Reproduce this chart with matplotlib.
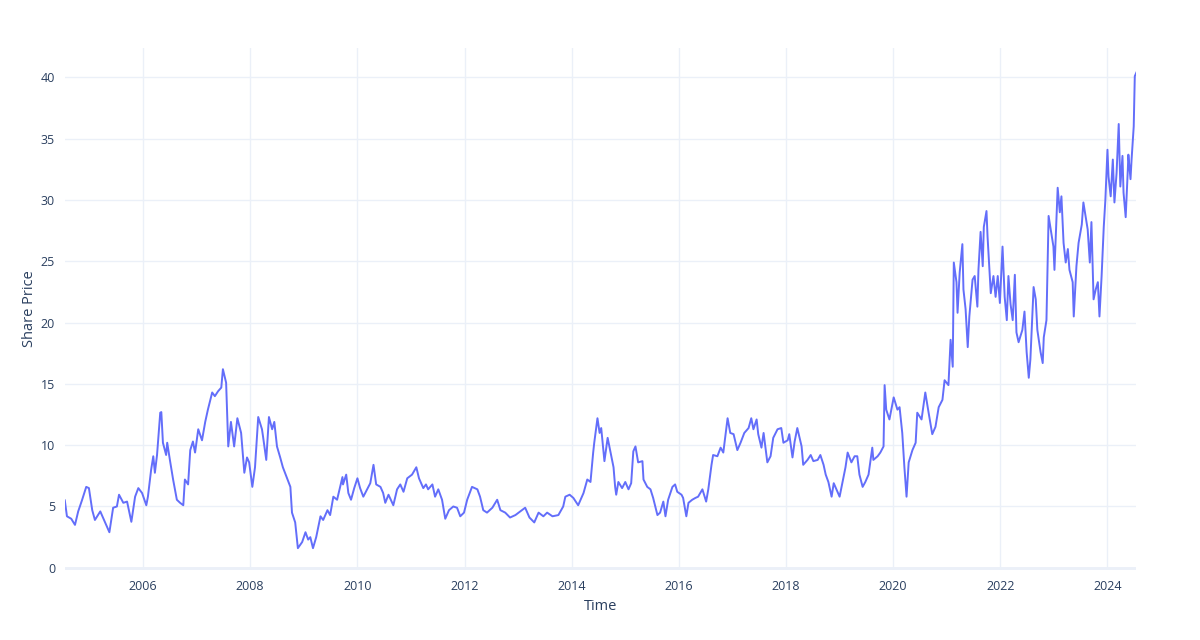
import numpy as np
import pandas as pd
import matplotlib
matplotlib.use("Agg")
import matplotlib.pyplot as plt
import matplotlib.dates as mdates

# decimal year -> share price
years = [
    2004.54, 2004.58, 2004.66, 2004.73, 2004.79, 2004.86, 2004.94, 2004.99, 2005.05, 2005.10,
    2005.20, 2005.25, 2005.37, 2005.44, 2005.51, 2005.55, 2005.63, 2005.70, 2005.78, 2005.85,
    2005.91, 2005.98, 2006.06, 2006.09, 2006.15, 2006.19, 2006.22, 2006.26, 2006.32, 2006.34,
    2006.37, 2006.43, 2006.45, 2006.50, 2006.56, 2006.63, 2006.69, 2006.75, 2006.78, 2006.84,
    2006.88, 2006.93, 2006.97, 2007.03, 2007.10, 2007.16, 2007.21, 2007.29, 2007.34, 2007.40,
    2007.46, 2007.49, 2007.55, 2007.59, 2007.64, 2007.70, 2007.76, 2007.83, 2007.89, 2007.94,
    2007.98, 2008.04, 2008.09, 2008.15, 2008.22, 2008.24, 2008.30, 2008.35, 2008.41, 2008.45,
    2008.50, 2008.56, 2008.61, 2008.69, 2008.75, 2008.78, 2008.84, 2008.89, 2008.97, 2009.03,
    2009.08, 2009.12, 2009.17, 2009.23, 2009.31, 2009.36, 2009.44, 2009.49, 2009.55, 2009.62,
    2009.72, 2009.73, 2009.79, 2009.83, 2009.88, 2009.94, 2010.00, 2010.05, 2010.11, 2010.18,
    2010.24, 2010.30, 2010.35, 2010.43, 2010.48, 2010.52, 2010.58, 2010.67, 2010.74, 2010.80,
    2010.86, 2010.93, 2011.02, 2011.10, 2011.15, 2011.23, 2011.28, 2011.32, 2011.40, 2011.45,
    2011.51, 2011.58, 2011.64, 2011.71, 2011.79, 2011.86, 2011.92, 2011.99, 2012.05, 2012.14,
    2012.24, 2012.29, 2012.35, 2012.42, 2012.52, 2012.61, 2012.67, 2012.76, 2012.85, 2012.95,
    2013.04, 2013.13, 2013.21, 2013.30, 2013.38, 2013.47, 2013.54, 2013.64, 2013.75, 2013.84,
    2013.88, 2013.96, 2014.03, 2014.12, 2014.22, 2014.29, 2014.35, 2014.40, 2014.42, 2014.48,
    2014.52, 2014.55, 2014.61, 2014.67, 2014.74, 2014.78, 2014.81, 2014.83, 2014.87, 2014.94,
    2015.00, 2015.06, 2015.11, 2015.15, 2015.19, 2015.24, 2015.32, 2015.34, 2015.41, 2015.47,
    2015.52, 2015.60, 2015.65, 2015.71, 2015.75, 2015.80, 2015.88, 2015.93, 2015.97, 2016.05,
    2016.08, 2016.14, 2016.18, 2016.25, 2016.31, 2016.36, 2016.44, 2016.51, 2016.55, 2016.61,
    2016.64, 2016.72, 2016.78, 2016.83, 2016.91, 2016.96, 2017.02, 2017.09, 2017.15, 2017.22,
    2017.30, 2017.35, 2017.39, 2017.45, 2017.48, 2017.54, 2017.58, 2017.65, 2017.71, 2017.76,
    2017.84, 2017.91, 2017.95, 2018.03, 2018.06, 2018.12, 2018.16, 2018.21, 2018.29, 2018.32,
    2018.40, 2018.46, 2018.51, 2018.59, 2018.64, 2018.70, 2018.74, 2018.79, 2018.85, 2018.89,
    2018.94, 2019.00, 2019.07, 2019.11, 2019.15, 2019.22, 2019.28, 2019.33, 2019.37, 2019.43,
    2019.48, 2019.54, 2019.61, 2019.63, 2019.71, 2019.76, 2019.82, 2019.84, 2019.87, 2019.93,
    2020.01, 2020.08, 2020.12, 2020.17, 2020.21, 2020.25, 2020.29, 2020.36, 2020.42, 2020.45,
    2020.53, 2020.60, 2020.66, 2020.73, 2020.79, 2020.85, 2020.92, 2020.96, 2021.03, 2021.07,
    2021.11, 2021.13, 2021.18, 2021.20, 2021.24, 2021.29, 2021.31, 2021.35, 2021.39, 2021.42,
    2021.48, 2021.52, 2021.57, 2021.59, 2021.63, 2021.67, 2021.69, 2021.74, 2021.76, 2021.82,
    2021.87, 2021.91, 2021.95, 2021.99, 2022.04, 2022.08, 2022.12, 2022.15, 2022.19, 2022.23,
    2022.27, 2022.30, 2022.34, 2022.41, 2022.45, 2022.49, 2022.53, 2022.56, 2022.62, 2022.66,
    2022.69, 2022.75, 2022.79, 2022.81, 2022.86, 2022.90, 2022.94, 2022.99, 2023.01, 2023.07,
    2023.11, 2023.14, 2023.18, 2023.22, 2023.26, 2023.29, 2023.35, 2023.37, 2023.42, 2023.46,
    2023.52, 2023.55, 2023.59, 2023.63, 2023.67, 2023.70, 2023.74, 2023.78, 2023.82, 2023.85,
    2023.89, 2023.93, 2023.96, 2024.00, 2024.02, 2024.06, 2024.10, 2024.13, 2024.17, 2024.21,
    2024.24, 2024.28, 2024.30, 2024.34, 2024.38, 2024.39, 2024.43, 2024.45, 2024.49, 2024.51,
    2024.54,
]
price = [
    5.5, 4.2, 4.0, 3.5, 4.6, 5.5, 6.6, 6.5, 4.7, 3.9,
    4.6, 4.1, 2.9, 4.9, 5.0, 5.96, 5.3, 5.4, 3.75, 5.8,
    6.5, 6.1, 5.1, 5.8, 8.0, 9.1, 7.75, 9.2, 12.65, 12.7,
    10.2, 9.2, 10.2, 8.8, 7.2, 5.55, 5.3, 5.1, 7.2, 6.8,
    9.6, 10.3, 9.4, 11.3, 10.4, 11.9, 12.9, 14.3, 14.0, 14.4,
    14.7, 16.2, 15.1, 9.9, 11.9, 9.9, 12.2, 11.0, 7.75, 9.0,
    8.6, 6.6, 8.2, 12.3, 11.3, 10.7, 8.8, 12.3, 11.3, 11.9,
    9.9, 9.0, 8.2, 7.3, 6.6, 4.5, 3.7, 1.6, 2.1, 2.9,
    2.3, 2.5, 1.6, 2.5, 4.2, 3.9, 4.7, 4.3, 5.8, 5.55,
    7.4, 6.8, 7.6, 6.1, 5.55, 6.5, 7.3, 6.5, 5.8, 6.4,
    6.9, 8.4, 6.8, 6.6, 6.1, 5.3, 5.96, 5.1, 6.4, 6.8,
    6.2, 7.3, 7.6, 8.2, 7.3, 6.5, 6.8, 6.4, 6.8, 5.8,
    6.4, 5.55, 4.0, 4.7, 5.0, 4.9, 4.2, 4.5, 5.55, 6.6,
    6.4, 5.8, 4.7, 4.5, 4.9, 5.55, 4.7, 4.5, 4.1, 4.3,
    4.6, 4.9, 4.1, 3.7, 4.5, 4.2, 4.5, 4.2, 4.3, 5.0,
    5.8, 5.96, 5.7, 5.1, 6.1, 7.2, 7.0, 9.4, 10.2, 12.2,
    11.0, 11.4, 8.7, 10.6, 9.1, 8.2, 6.6, 5.96, 7.0, 6.5,
    7.0, 6.4, 6.9, 9.5, 9.9, 8.6, 8.7, 7.2, 6.6, 6.4,
    5.7, 4.3, 4.5, 5.4, 4.2, 5.55, 6.6, 6.8, 6.2, 5.96,
    5.7, 4.2, 5.3, 5.55, 5.7, 5.8, 6.4, 5.4, 6.4, 8.4,
    9.2, 9.1, 9.8, 9.4, 12.2, 11.0, 10.9, 9.6, 10.2, 11.0,
    11.4, 12.2, 11.3, 12.1, 10.9, 9.8, 11.0, 8.6, 9.1, 10.6,
    11.3, 11.4, 10.2, 10.4, 10.9, 9.0, 10.3, 11.4, 9.9, 8.4,
    8.8, 9.2, 8.7, 8.8, 9.2, 8.4, 7.6, 7.0, 5.8, 6.9,
    6.4, 5.8, 7.3, 8.2, 9.4, 8.6, 9.1, 9.1, 7.6, 6.6,
    7.0, 7.6, 9.8, 8.8, 9.1, 9.4, 9.9, 14.9, 12.9, 12.1,
    13.9, 12.9, 13.1, 11.0, 8.2, 5.8, 8.6, 9.6, 10.2, 12.65,
    12.1, 14.3, 12.7, 10.9, 11.5, 13.1, 13.7, 15.3, 14.9, 18.6,
    16.4, 24.9, 23.3, 20.8, 24.1, 26.4, 22.7, 21.1, 18.0, 20.5,
    23.5, 23.8, 21.3, 24.3, 27.4, 24.6, 27.8, 29.1, 27.0, 22.4,
    23.8, 22.1, 23.8, 21.6, 26.2, 22.1, 20.2, 23.8, 21.5, 20.2,
    23.9, 19.2, 18.4, 19.4, 20.9, 17.6, 15.5, 17.0, 22.9, 21.9,
    19.4, 17.6, 16.7, 18.8, 20.2, 28.7, 27.6, 26.2, 24.3, 31.0,
    29.0, 30.3, 26.5, 24.9, 26.0, 24.3, 23.3, 20.5, 24.6, 26.5,
    28.0, 29.8, 28.7, 27.6, 24.9, 28.2, 21.9, 22.7, 23.3, 20.5,
    23.8, 27.8, 30.0, 34.1, 31.9, 30.3, 33.3, 29.8, 32.2, 36.2,
    31.1, 33.6, 30.6, 28.6, 32.5, 33.7, 31.7, 33.3, 36.0, 40.1,
    40.4,
]
x_ticks = [2006, 2008, 2010, 2012, 2014, 2016, 2018, 2020, 2022, 2024]
y_ticks = [0, 5, 10, 15, 20, 25, 30, 35, 40]


def to_date(y):
    start = pd.Timestamp(year=int(y), month=1, day=1)
    return start + pd.Timedelta(days=(y - int(y)) * 365.25)


dates = [to_date(y) for y in years]

plt.rcParams["font.family"] = ["Open Sans", "DejaVu Sans"]
TXT = "#2a3f5f"
GRID = "#EBF0F8"

fig = plt.figure(figsize=(12, 6.4), dpi=100)
ax = fig.add_axes([0.054, 0.109, 0.893, 0.816])

ax.plot(dates, price, color="#636EFA", lw=1.4)

ax.set_xlim(dates[0], dates[-1])
ax.set_ylim(-0.2, 42.4)
ax.set_xticks([pd.Timestamp(year=t, month=1, day=1) for t in x_ticks])
ax.xaxis.set_major_formatter(mdates.DateFormatter("%Y"))
ax.set_yticks(y_ticks)

ax.grid(True, color=GRID, lw=1)
ax.set_axisbelow(True)
ax.axhline(0, color=GRID, lw=2, zorder=0)
for s in ax.spines.values():
    s.set_visible(False)
ax.tick_params(length=0, colors=TXT, labelsize=9, pad=7)

ax.set_xlabel("Time", color=TXT, fontsize=10.5, labelpad=4.5)
ax.set_ylabel("Share Price", color=TXT, fontsize=10.5, labelpad=3)

fig.savefig("out.png", dpi=100, facecolor="white")
